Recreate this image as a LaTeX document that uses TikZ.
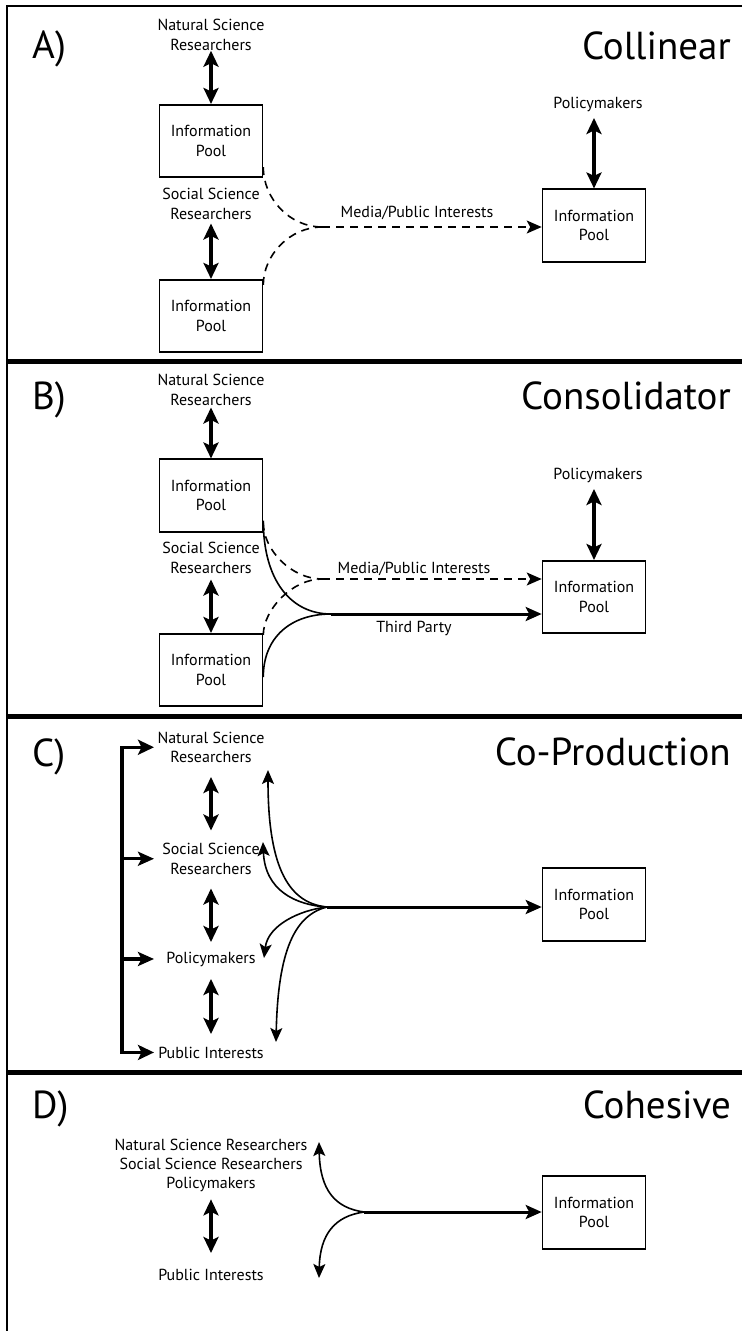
\documentclass[tikz,border=0pt]{standalone}
\usepackage{fontspec}
\setmainfont{PT Sans}
\usetikzlibrary{arrows.meta,positioning}

\tikzset{
  pool/.style={draw, line width=1.6pt, minimum width=103pt, minimum height=72.5pt, align=center, inner sep=0pt, font=\fontsize{16}{19.5}\selectfont},
  actor/.style={align=center, inner sep=0pt, font=\fontsize{16}{19.5}\selectfont},
  panel/.style={anchor=base west, inner sep=0pt, font=\fontsize{39}{44}\selectfont},
  model/.style={anchor=base east, inner sep=0pt, font=\fontsize{39}{44}\selectfont},
  dbl/.style={{Stealth[length=16pt,width=15pt,inset=3.5pt]}-{Stealth[length=16pt,width=15pt,inset=3.5pt]}, line width=3.2pt},
  flow/.style={-{Stealth[length=16pt,width=14pt,inset=3.5pt]}, line width=3pt},
  branch/.style={-{Stealth[length=14pt,width=12pt,inset=3pt]}, line width=1.6pt},
  feed/.style={line width=1.6pt},
  dashline/.style={line width=1.6pt, dash pattern=on 8pt off 6pt},
  media/.style={dashline, -{Stealth[length=15pt,width=13pt,inset=3.5pt]}},
}

\begin{document}
\begin{tikzpicture}[x=1pt, y=-1pt]
  \useasboundingbox (0,0) rectangle (742,1331);
  % frame and separators
  \draw[line width=1.5pt] (742,6) -- (7,6) -- (7,1331);
  \draw[line width=5pt] (7,361.5) -- (742,361.5);
  \draw[line width=5pt] (7,716.5) -- (742,716.5);
  \draw[line width=5pt] (7,1072.5) -- (742,1072.5);

  % A) collinear
  \node[panel] (labA) at (32,58) {A)};
  \node[model] (titA) at (731,59) {Collinear};
  \node[pool] (poolA1) at (211,141) {Information\\Pool};
  \node[actor] (nsA) [above of=poolA1, node distance=106pt] {Natural Science\\Researchers};
  \node[actor] (ssA) [below of=poolA1, node distance=62.75pt] {Social Science\\Researchers};
  \node[pool] (poolA2) [below of=poolA1, node distance=175pt] {Information\\Pool};
  \node[pool] (poolA3) at (594,225.5) {Information\\Pool};
  \node[actor, anchor=base] (pmA) at (598,108) {Policymakers};
  \node[actor, anchor=base] (medA) at (417,217) {Media/Public Interests};
  \coordinate (mA) at (322,227);
  \path
    (nsA) edge[dbl] (poolA1)
    (ssA) edge[dbl, shorten <=4pt] (poolA2)
  ;
  \draw[dbl, shorten >=6.5pt] (poolA3.north) -- (poolA3.north |- pmA.south);
  \draw[dashline] ([yshift=11pt]poolA1.south east) .. controls +(0,32) and +(-32,0) .. (mA);
  \draw[dashline] ([yshift=-6pt]poolA2.north east) .. controls +(0,-30) and +(-32,0) .. (mA);
  \draw[media] (mA) -- (mA -| poolA3.west);

  % B) consolidator
  \node[panel] (labB) at (32,409) {B)};
  \node[model] (titB) at (731,409) {Consolidator};
  \node[pool] (poolB1) at (211,495.5) {Information\\Pool};
  \node[actor] (nsB) [above of=poolB1, node distance=105.75pt] {Natural Science\\Researchers};
  \node[actor] (ssB) [below of=poolB1, node distance=62.25pt] {Social Science\\Researchers};
  \node[pool] (poolB2) [below of=poolB1, node distance=174.5pt] {Information\\Pool};
  \node[pool] (poolB3) at (594,597) {Information\\Pool};
  \node[actor, anchor=base] (pmB) at (598,479) {Policymakers};
  \node[actor, anchor=base] (medB) at (414,573) {Media/Public Interests};
  \node[actor, anchor=base] (thirdB) at (414,632) {Third Party};
  \coordinate (mB) at (322,579);
  \coordinate (jB) at (331,614);
  \path
    (nsB) edge[dbl, shorten <=2pt] (poolB1)
    (ssB) edge[dbl, shorten <=6pt] (poolB2)
  ;
  \draw[dbl, shorten >=6.5pt] (poolB3.north) -- (poolB3.north |- pmB.south);
  \draw[dashline] ([yshift=10pt]poolB1.south east) .. controls +(0,28) and +(-30,0) .. (mB);
  \draw[dashline] ([yshift=-2pt]poolB2.north east) .. controls +(0,-25) and +(-30,0) .. (mB);
  \draw[media] (mB) -- (mB -| poolB3.west);
  \draw[feed] ([yshift=12pt]poolB1.south east) .. controls +(0,60) and +(-40,0) .. (jB);
  \draw[feed] ([yshift=30pt]poolB2.south east) .. controls +(0,-40) and +(-40,0) .. (jB);
  \draw[flow] (jB) -- (jB -| poolB3.west);

  % C) co-production
  \node[panel] (labC) at (32,766) {C)};
  \node[model] (titC) at (731,765) {Co-Production};
  \node[actor] (nsC) at (211,747.25) {Natural Science\\Researchers};
  \node[actor] (ssC) at (211,858.75) {Social Science\\Researchers};
  \node[actor, anchor=base] (pmC) at (211,963) {Policymakers};
  \node[actor, anchor=base] (piC) at (211,1058) {Public Interests};
  \node[pool] (poolC) at (594,904.5) {Information\\Pool};
  \coordinate (brC) at (122,747);
  \coordinate (tipC) at (154,747);
  \coordinate (jC) at (327,907);
  \coordinate (tNS) at (268,770);
  \coordinate (tSS) at (263,842);
  \coordinate (tPM) at (264,958);
  \coordinate (tPI) at (276,1042);
  \draw[dbl] (tipC |- nsC) -| (brC |- piC) -- (tipC |- piC);
  \draw[flow, line width=3.2pt] (brC |- ssC) -- (tipC |- ssC);
  \draw[flow, line width=3.2pt] (brC |- pmC) -- (tipC |- pmC);
  \path
    (nsC) edge[dbl, shorten <=14pt, shorten >=12.5pt] (ssC)
    (ssC) edge[dbl, shorten <=14pt, shorten >=9.5pt] (pmC)
    (pmC) edge[dbl, shorten <=12.5pt, shorten >=12.5pt] (piC)
  ;
  \draw[branch] (jC) .. controls +(-42,-4) and +(0,90) .. (tNS);
  \draw[branch] (jC) .. controls +(-32,-2) and +(2,48) .. (tSS);
  \draw[branch] (jC) .. controls +(-27,3) and +(4,-33) .. (tPM);
  \draw[branch] (jC) .. controls +(-32,8) and +(2,-92) .. (tPI);
  \draw[flow] (jC) -- (jC -| poolC.west);

  % D) cohesive
  \node[panel] (labD) at (32,1118) {D)};
  \node[model] (titD) at (731,1118) {Cohesive};
  \node[actor, font=\fontsize{16}{19}\selectfont] (grpD) at (211,1165.3) {Natural Science Researchers\\Social Science Researchers\\Policymakers};
  \node[actor, anchor=base] (piD) at (211,1280.5) {Public Interests};
  \node[pool] (poolD) at (594,1212.5) {Information\\Pool};
  \coordinate (jD) at (364,1212);
  \coordinate (tUp) at (319,1142);
  \coordinate (tDn) at (319,1278);
  \path (grpD) edge[dbl, shorten <=7.5pt, shorten >=16pt] (piD);
  \draw[branch] (jD) .. controls +(-29,-4) and +(1,48) .. (tUp);
  \draw[branch] (jD) .. controls +(-29,4) and +(1,-44) .. (tDn);
  \draw[flow] (jD) -- (jD -| poolD.west);
\end{tikzpicture}
\end{document}
